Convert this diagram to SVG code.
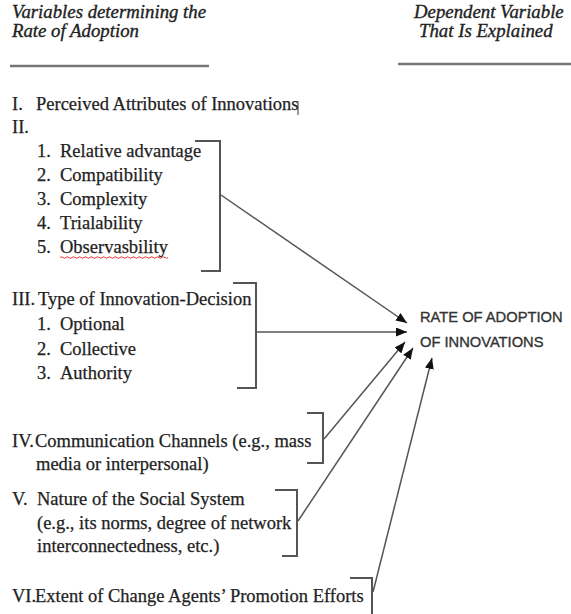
<svg xmlns="http://www.w3.org/2000/svg" width="571" height="614" viewBox="0 0 571 614">
<defs>
<style>
.t{font-family:"Liberation Serif","Times New Roman",serif;font-size:18.5px;fill:#222;stroke:#222;stroke-width:0.25}
.h{font-family:"Liberation Serif","Times New Roman",serif;font-size:18.8px;font-style:italic;fill:#222;stroke:#222;stroke-width:0.35}
.s{font-family:"Liberation Sans",Arial,sans-serif;font-size:14.7px;fill:#333;stroke:#333;stroke-width:0.35}
.br{fill:none;stroke:#555;stroke-width:2}
.rule{stroke:#777;stroke-width:2.5}
.c{fill:none;stroke:#555;stroke-width:1.5;marker-end:url(#ah)}
</style>
<marker id="ah" markerUnits="userSpaceOnUse" markerWidth="11" markerHeight="9" refX="11" refY="4.5" orient="auto">
<path d="M0,0 L11,4.5 L0,9 z" fill="#111"/>
</marker>
</defs>
<rect width="571" height="614" fill="#fff"/>
<g id="header-left">
<text class="h" x="12" y="18">Variables determining the</text>
<text class="h" x="12" y="37">Rate of Adoption</text>
<line class="rule" x1="10" y1="66" x2="209" y2="66"/>
</g>
<g id="header-right">
<text class="h" x="414" y="18">Dependent Variable</text>
<text class="h" x="419" y="37">That Is Explained</text>
<line class="rule" x1="398" y1="64" x2="571" y2="64"/>
</g>
<g id="node-1">
<text class="t" x="12" y="110">I.</text>
<text class="t" x="36" y="110">Perceived Attributes of Innovations</text>
<line x1="298" y1="101" x2="298" y2="115" stroke="#333" stroke-width="1"/>
<text class="t" x="12" y="133">II.</text>
<text class="t" x="37" y="157">1.</text><text class="t" x="60" y="157">Relative advantage</text>
<text class="t" x="37" y="181">2.</text><text class="t" x="60" y="181">Compatibility</text>
<text class="t" x="37" y="205">3.</text><text class="t" x="60" y="205">Complexity</text>
<text class="t" x="37" y="229">4.</text><text class="t" x="60" y="229">Trialability</text>
<text class="t" x="37" y="253">5.</text><text class="t" x="60" y="253">Observasbility</text>
<path d="M60,257.5 q1.5,-1.5 3,0 t3,0 t3,0 t3,0 t3,0 t3,0 t3,0 t3,0 t3,0 t3,0 t3,0 t3,0 t3,0 t3,0 t3,0 t3,0 t3,0 t3,0 t3,0 t3,0 t3,0 t3,0 t3,0 t3,0 t3,0 t3,0 t3,0 t3,0 t3,0 t3,0 t3,0 t3,0 t3,0 t3,0 t3,0 t3,0" fill="none" stroke="#e33" stroke-width="1"/>
<path class="br" d="M195,141 H220 V271 H201"/>
</g>
<g id="node-2">
<text class="t" x="12" y="305">III.</text><text class="t" x="38" y="305">Type of Innovation-Decision</text>
<text class="t" x="37" y="330">1.</text><text class="t" x="60" y="330">Optional</text>
<text class="t" x="37" y="355">2.</text><text class="t" x="60" y="355">Collective</text>
<text class="t" x="37" y="379">3.</text><text class="t" x="60" y="379">Authority</text>
<path class="br" d="M233,283 H256 V388 H237"/>
</g>
<g id="node-3">
<text class="t" x="12" y="447">IV.</text><text class="t" x="35" y="447">Communication Channels (e.g., mass</text>
<text class="t" x="36" y="470">media or interpersonal)</text>
<path class="br" d="M307,413 H323 V463 H307"/>
</g>
<g id="node-4">
<text class="t" x="12" y="505">V.</text><text class="t" x="37" y="505">Nature of the Social System</text>
<text class="t" x="37" y="529">(e.g., its norms, degree of network</text>
<text class="t" x="37" y="552">interconnectedness, etc.)</text>
<path class="br" d="M275,490 H297 V556 H282"/>
</g>
<g id="node-5">
<text class="t" x="12" y="602">VI.</text><text class="t" x="35" y="602">Extent of Change Agents’ Promotion Efforts</text>
<path class="br" d="M350,578 H372 V614"/>
</g>
<g id="target">
<text class="s" x="420" y="322">RATE OF ADOPTION</text>
<text class="s" x="420" y="347">OF INNOVATIONS</text>
</g>
<g id="connectors">
<line class="c" x1="221" y1="195" x2="407" y2="323"/>
<line class="c" x1="257" y1="332" x2="407" y2="332"/>
<line class="c" x1="324" y1="439" x2="405" y2="342"/>
<line class="c" x1="298" y1="521" x2="413" y2="348"/>
<line class="c" x1="373" y1="592" x2="432" y2="358"/>
</g>
</svg>
